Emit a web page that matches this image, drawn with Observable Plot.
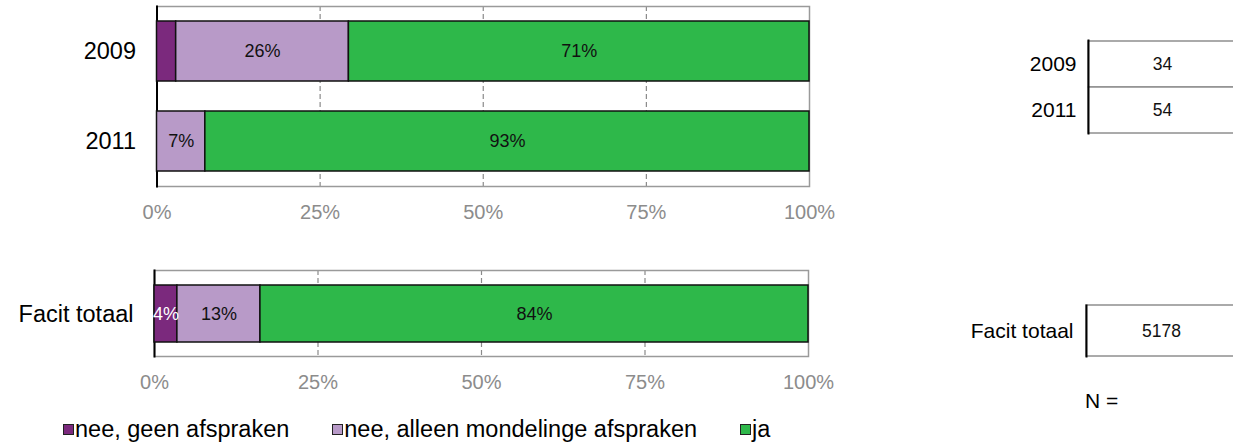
<!DOCTYPE html>
<html><head><meta charset="utf-8">
<script src="https://cdn.jsdelivr.net/npm/d3@7"></script>
<script src="https://cdn.jsdelivr.net/npm/@observablehq/plot@0.6"></script>
<style>
body{margin:0;overflow:hidden;background:#fff;font-family:"Liberation Sans",Arial,sans-serif;}
#root{position:relative;width:1233px;height:446px;overflow:hidden;background:#fff;}
.p{position:absolute;}
.p svg{max-width:none !important;}
.legend{position:absolute;left:63px;top:416px;display:flex;align-items:center;font-size:23.5px;color:#000;white-space:nowrap;}
.legend .item{display:flex;align-items:center;margin-right:43px;flex-shrink:0;}
.legend .sw{width:9px;height:9px;border:1.5px solid #222;margin-right:1px;flex-shrink:0;box-sizing:content-box;}
.nlabel{position:absolute;left:1085px;top:389px;font-size:21px;}
</style></head><body><div id="root"></div>
<script>
const categories = ["nee, geen afspraken", "nee, alleen mondelinge afspraken", "ja"];
const colors = ["#7B297D", "#B89AC8", "#2EB84A"];
const years = ["2009", "2011"];
const share2009 = [2.94, 26.47, 70.59];
const share2011 = [0, 7.41, 92.59];
const totalLabel = "Facit totaal";
const shareTotal = [3.5, 12.7, 83.8];
const nYears = [34, 54];
const nTotal = [5178];
const xTicks = [0, 25, 50, 75, 100];
const nLabel = "N =";

const font = "'Liberation Sans', Arial, sans-serif";
const root = document.getElementById("root");

function rowsFor(label, shares) {
  return categories.map((c, i) => ({year: label, cat: c, value: shares[i]}));
}
const topRows = [...rowsFor(years[0], share2009), ...rowsFor(years[1], share2011)];
const botRows = rowsFor(totalLabel, shareTotal);

function labelText(d) { return Math.round(d.value) >= 4 ? Math.round(d.value) + "%" : null; }

function barChart(rows, domain, o) {
  return Plot.plot({
    width: 840, height: o.height,
    marginLeft: o.ml, marginRight: o.mr, marginTop: o.mt, marginBottom: o.mb,
    style: {fontFamily: font, background: "transparent", overflow: "visible", maxWidth: "none"},
    x: {domain: [0, 100], label: null},
    y: {domain, paddingInner: o.pi, paddingOuter: o.po, label: null},
    color: {domain: categories, range: colors},
    marks: [
      Plot.gridX([25, 50, 75], {stroke: "#8a8a8a", strokeOpacity: 1, strokeWidth: 1.2, strokeDasharray: "5,3"}),
      Plot.frame({stroke: "#9a9a9a", strokeWidth: 1.5}),
      Plot.frame({anchor: "left", stroke: "#000", strokeWidth: 2}),
      Plot.barX(rows, {x: "value", y: "year", fill: "cat", z: "cat", stroke: "#111", strokeWidth: 1.5}),
      Plot.text(rows, Plot.stackX({x: "value", y: "year", z: "cat",
        text: d => d.cat === categories[0] ? labelText(d) : null, fill: "white", fontSize: 18})),
      Plot.text(rows, Plot.stackX({x: "value", y: "year", z: "cat",
        text: d => d.cat !== categories[0] ? labelText(d) : null, fill: "#111", fontSize: 18})),
      Plot.axisX({ticks: xTicks, tickFormat: d => d + "%", tickSize: 0, tickPadding: o.tp, fontSize: 20, fill: "#8c8c8c", label: null}),
      Plot.axisY({tickSize: 0, tickPadding: 21, fontSize: 23.5, fill: "#000", label: null})
    ]
  });
}

function nChart(labels, ns, o) {
  const rows = labels.map((l, i) => ({year: l, n: ns[i]}));
  return Plot.plot({
    width: 290, height: o.height,
    marginLeft: o.ml, marginRight: 4, marginTop: o.mt, marginBottom: o.mb,
    style: {fontFamily: font, background: "transparent", overflow: "visible", maxWidth: "none"},
    x: {domain: ["N"], padding: 0, axis: null},
    y: {domain: labels, padding: 0, label: null},
    marks: [
      Plot.cell(rows, {x: () => "N", y: "year", fill: "white", stroke: "#8f8f8f", strokeWidth: 1.5}),
      Plot.frame({anchor: "left", stroke: "#000", strokeWidth: 2}),
      Plot.text(rows, {x: () => "N", y: "year", text: d => String(d.n), fontSize: 17.5, fill: "#111"}),
      Plot.axisY({tickSize: 0, tickPadding: o.tp, fontSize: 21, fill: "#000", label: null})
    ]
  });
}

function place(el, left, top, w) {
  const d = document.createElement("div");
  d.className = "p"; d.style.left = left + "px"; d.style.top = top + "px"; d.style.width = w + "px";
  d.appendChild(el); root.appendChild(d);
}

place(barChart(topRows, years, {height: 230, ml: 156.5, mr: 31, mt: 6, mb: 44, pi: 1/3, po: 1/6, tp: 18}), 0, 0, 840);
place(barChart(botRows, [totalLabel], {height: 140, ml: 154, mr: 32, mt: 10, mb: 44, pi: 0, po: 0.254, tp: 18}), 0, 260, 840);
place(nChart(years, nYears, {height: 150, ml: 138, mt: 40, mb: 17, tp: 12}), 950, 0, 290);
place(nChart([totalLabel], nTotal, {height: 140, ml: 136, mt: 45, mb: 44, tp: 13}), 950, 260, 290);

const nl = document.createElement("div");
nl.className = "nlabel"; nl.textContent = nLabel; root.appendChild(nl);

const lg = document.createElement("div");
lg.className = "legend";
categories.forEach((c, i) => {
  const it = document.createElement("div"); it.className = "item";
  const sw = document.createElement("div"); sw.className = "sw"; sw.style.background = colors[i];
  const tx = document.createElement("span"); tx.textContent = c;
  it.appendChild(sw); it.appendChild(tx); lg.appendChild(it);
});
root.appendChild(lg);
</script></body></html>
